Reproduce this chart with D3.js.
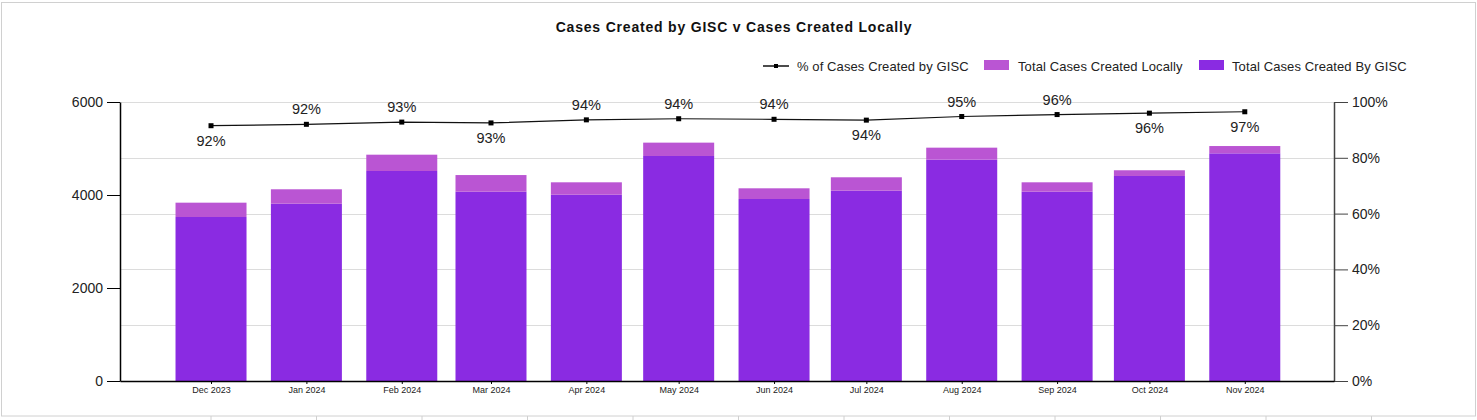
<!DOCTYPE html>
<html lang="en">
<head>
<meta charset="utf-8">
<title>Cases Created by GISC v Cases Created Locally</title>
<script src="https://d3js.org/d3.v7.min.js"></script>
<style>
  body { margin: 0; background: #fff; }
  svg { display: block; font-family: "Liberation Sans", Arial, sans-serif; }
  .title { font-size: 14px; font-weight: bold; fill: #111; letter-spacing: 0.8px; }
  .legend text { font-size: 13px; fill: #222; letter-spacing: 0.1px; }
  .yaxis text { font-size: 14px; fill: #222; }
  .xaxis text { font-size: 9px; fill: #222; }
  .pct-label { font-size: 14.5px; fill: #222; }
</style>
</head>
<body>
<svg width="1477" height="420"></svg>
<script>
// month of each bar (first day of month)
const months = ["2023-12", "2024-01", "2024-02", "2024-03", "2024-04", "2024-05",
                "2024-06", "2024-07", "2024-08", "2024-09", "2024-10", "2024-11"];
// cases
const giscCases  = [3527, 3813, 4516, 4071, 4006, 4839, 3914, 4093, 4760, 4071, 4409, 4896];
const localCases = [308, 310, 351, 358, 267, 287, 230, 288, 258, 202, 123, 157];
// % of cases created by GISC (line)
const pctGisc = [91.5, 92.0, 92.8, 92.5, 93.6, 94.0, 93.8, 93.5, 94.8, 95.5, 96.0, 96.5];
// where each % label sits: 1 = below the point, -1 = above
const labelSide = [1, -1, -1, 1, -1, -1, -1, 1, -1, -1, 1, 1];
const leftTicks = [0, 2000, 4000, 6000];
const rightTicks = [0, 20, 40, 60, 80, 100];

const parseMonth = d3.utcParse("%Y-%m");
const dates = months.map(parseMonth);

const svg = d3.select("svg");
const plotL = 120, plotR = 1334, plotT = 102, plotB = 381;
const barW = 71;
const dark = "#8a2be2", light = "#ba55d3";

// outer frame + cut-off table underneath
svg.append("rect")
   .attr("x", 1.5).attr("y", 2.5)
   .attr("width", 1474).attr("height", 413.5)
   .attr("fill", "none").attr("stroke", "#d0d0d0");
svg.selectAll(".tbl")
   .data(d3.range(12))
   .join("line")
   .attr("class", "tbl")
   .attr("x1", i => 211 + i * 105.5).attr("x2", i => 211 + i * 105.5)
   .attr("y1", 416).attr("y2", 420)
   .attr("stroke", "#d0d0d0");

// scales
const x = d3.scaleUtc()
            .domain([new Date(Date.UTC(2023, 10, 1, 10)), new Date(Date.UTC(2024, 10, 30))])
            .range([plotL, plotR]);
const yLeft = d3.scaleLinear().domain([0, 6000]).range([plotB, plotT]);
const yRight = d3.scaleLinear().domain([0, 100]).range([plotB, plotT]);

// gridlines
svg.append("g")
   .selectAll("line")
   .data(rightTicks)
   .join("line")
   .attr("x1", plotL).attr("x2", plotR)
   .attr("y1", d => Math.round(yRight(d)) + 0.5)
   .attr("y2", d => Math.round(yRight(d)) + 0.5)
   .attr("stroke", "#dcdcdc");

// bars
const data = dates.map((d, i) => ({date: d, gisc: giscCases[i], local: localCases[i]}));
const bars = svg.append("g");
bars.selectAll(".gisc")
    .data(data)
    .join("rect")
    .attr("class", "gisc")
    .attr("x", d => x(d.date) - barW / 2)
    .attr("width", barW)
    .attr("y", d => yLeft(d.gisc))
    .attr("height", d => yLeft(0) - yLeft(d.gisc))
    .attr("fill", dark);
bars.selectAll(".local")
    .data(data)
    .join("rect")
    .attr("class", "local")
    .attr("x", d => x(d.date) - barW / 2)
    .attr("width", barW)
    .attr("y", d => yLeft(d.gisc + d.local))
    .attr("height", d => yLeft(d.gisc) - yLeft(d.gisc + d.local))
    .attr("fill", light);

// axes
const leftAxis = svg.append("g")
   .attr("class", "yaxis")
   .attr("transform", `translate(${plotL},0)`)
   .call(d3.axisLeft(yLeft).tickValues(leftTicks).tickSize(13).tickPadding(4)
          .tickSizeOuter(0).tickFormat(d3.format("d")));
leftAxis.select(".domain").attr("stroke", "#000").attr("stroke-width", 1.5);

const rightAxis = svg.append("g")
   .attr("class", "yaxis")
   .attr("transform", `translate(${plotR},0)`)
   .call(d3.axisRight(yRight).tickValues(rightTicks).tickSize(14).tickPadding(4)
          .tickSizeOuter(0).tickFormat(d => d + "%"));
rightAxis.select(".domain").attr("stroke", "#444").attr("stroke-width", 1.5);
rightAxis.selectAll(".tick line").attr("stroke", "#444");

const bottomAxis = svg.append("g")
   .attr("class", "xaxis")
   .attr("transform", `translate(0,${plotB})`)
   .call(d3.axisBottom(x).tickValues(dates).tickSize(3).tickPadding(3)
          .tickSizeOuter(0).tickFormat(d3.utcFormat("%b %Y")));
bottomAxis.select(".domain").attr("stroke", "#000").attr("stroke-width", 1.5);

// % line
const line = d3.line()
               .x((d, i) => x(dates[i]))
               .y(d => yRight(d));
svg.append("path")
   .datum(pctGisc)
   .attr("d", line)
   .attr("fill", "none")
   .attr("stroke", "#111")
   .attr("stroke-width", 1.2);
svg.append("g")
   .selectAll("rect")
   .data(pctGisc)
   .join("rect")
   .attr("x", (d, i) => x(dates[i]) - 2.5)
   .attr("y", d => yRight(d) - 2.5)
   .attr("width", 5).attr("height", 5)
   .attr("fill", "#000");
svg.append("g")
   .selectAll("text")
   .data(pctGisc)
   .join("text")
   .attr("class", "pct-label")
   .attr("x", (d, i) => x(dates[i]))
   .attr("y", (d, i) => yRight(d) + labelSide[i] * 15)
   .attr("dy", "0.35em")
   .attr("text-anchor", "middle")
   .text(d => Math.round(d) + "%");

// title
svg.append("text")
   .attr("class", "title")
   .attr("x", 734).attr("y", 32)
   .attr("text-anchor", "middle")
   .text("Cases Created by GISC v Cases Created Locally");

// legend
const legend = svg.append("g").attr("class", "legend");
legend.append("line")
      .attr("x1", 763).attr("x2", 789).attr("y1", 66).attr("y2", 66)
      .attr("stroke", "#111").attr("stroke-width", 1.5);
legend.append("rect")
      .attr("x", 774).attr("y", 64).attr("width", 4).attr("height", 4).attr("fill", "#000");
legend.append("text").attr("x", 797).attr("y", 70.5).text("% of Cases Created by GISC");
legend.append("rect")
      .attr("x", 984).attr("y", 60).attr("width", 25).attr("height", 10).attr("fill", light);
legend.append("text").attr("x", 1018).attr("y", 70.5).text("Total Cases Created Locally");
legend.append("rect")
      .attr("x", 1199).attr("y", 60).attr("width", 25).attr("height", 10).attr("fill", dark);
legend.append("text").attr("x", 1232).attr("y", 70.5).text("Total Cases Created By GISC");
</script>
</body>
</html>
